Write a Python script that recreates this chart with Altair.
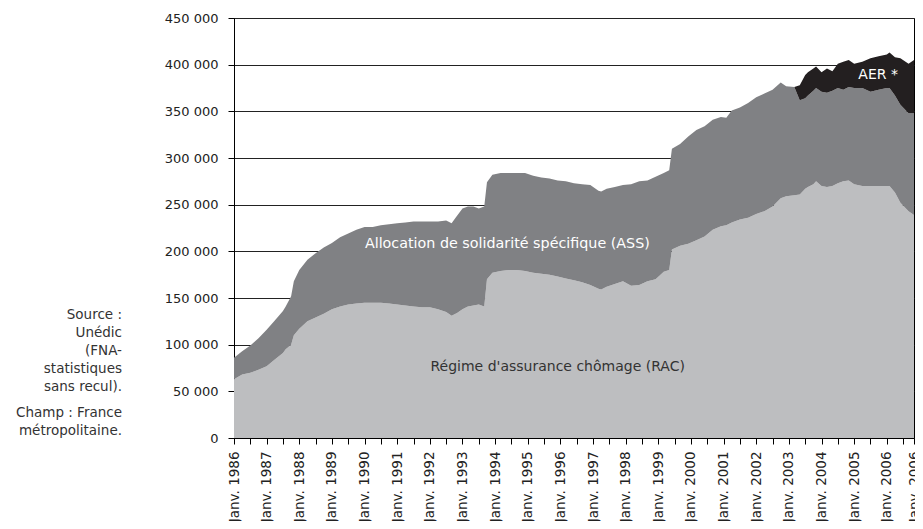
import altair as alt
import pandas as pd

# months since January 1986
months = [0, 3, 6, 9, 12, 15, 18, 19, 21, 22, 24, 27, 30, 33, 36, 39, 42, 45, 48, 51,
          54, 57, 60, 63, 66, 69, 72, 75, 78, 80, 82, 84, 86, 88, 90, 92, 93, 95, 98, 101,
          104, 107, 110, 113, 116, 119, 122, 125, 128, 131, 134, 135, 137, 140, 143, 146, 149, 152, 155, 158,
          160, 161, 164, 167, 170, 173, 176, 179, 181, 183, 186, 189, 192, 195, 198, 201, 203, 206, 208, 210,
          211, 213, 214, 216, 218, 220, 222, 224, 226, 228, 231, 234, 237, 240, 241, 243, 245, 248, 250]

# thousands of beneficiaries
rac = [63, 68, 70, 73, 77, 84, 91, 95, 100, 110, 117, 125, 129, 133, 138, 141, 143, 144, 145, 145,
       145, 144, 143, 142, 141, 140, 140, 138, 135, 131, 134, 138, 141, 142, 143, 141, 170, 177, 179, 180,
       180, 179, 177, 176, 175, 173, 171, 169, 167, 164, 160, 159, 162, 165, 168, 163, 164, 168, 170, 178,
       180, 202, 206, 208, 212, 216, 223, 227, 228, 231, 234, 236, 240, 243, 248, 257, 259, 260, 261, 267,
       269, 272, 275, 270, 269, 270, 273, 275, 276, 272, 270, 270, 270, 270, 270, 263, 252, 243, 239]

ass = [23, 25, 29, 34, 39, 42, 45, 46, 52, 58, 63, 66, 69, 71, 71, 74, 76, 79, 81, 81,
       83, 85, 87, 89, 91, 92, 92, 94, 98, 99, 104, 108, 107, 106, 103, 107, 104, 105, 105, 104,
       104, 105, 104, 103, 103, 103, 104, 104, 105, 107, 105, 105, 105, 104, 103, 109, 111, 108, 110, 106,
       107, 108, 109, 115, 118, 118, 118, 117, 115, 120, 120, 123, 125, 126, 125, 124, 118, 116, 101, 97,
       98, 100, 100, 101, 101, 102, 102, 98, 100, 103, 105, 101, 103, 105, 105, 104, 105, 105, 109]

aer = [0] * 77 + [0, 16, 25,
       25, 24, 23, 21, 26, 21, 26, 30, 29, 26, 28, 36, 36, 36, 38, 41, 50, 53, 57]

series_names = ["Régime d'assurance chômage (RAC)",
                "Allocation de solidarité spécifique (ASS)",
                "AER *"]
series_colors = ["#bdbec0", "#808184", "#231f20"]

rows = []
for i, m in enumerate(months):
    for k, vals in enumerate([rac, ass, aer]):
        rows.append({"mois": m, "serie": series_names[k], "ordre": k,
                     "effectif": vals[i] * 1000})
df = pd.DataFrame(rows)

x_ticks = list(range(0, 250, 6)) + [250]
y_ticks = list(range(0, 450001, 50000))
FONT = "DejaVu Sans"

x_scale = alt.Scale(domain=[0, 250], nice=False, zero=False)
y_scale = alt.Scale(domain=[0, 450000], nice=False)
x_axis = alt.Axis(
    values=x_ticks,
    labelExpr="datum.value % 12 == 0 ? 'Janv. ' + (1986 + datum.value / 12) : (datum.value == 250 ? 'Janv. 2006' : '')",
    labelAngle=270, labelAlign="right", labelBaseline="middle",
    labelOverlap=False, labelFlush=False, labelPadding=7,
    tickSize=6, tickColor="#000", domainColor="#000", grid=False,
    labelFont=FONT, labelFontSize=13.5, labelColor="#222", title=None,
)
y_axis = alt.Axis(
    values=y_ticks,
    labelExpr="replace(format(datum.value, ','), ',', ' ')",
    grid=True, gridColor="#222", gridWidth=1, labelOverlap=False,
    tickSize=6, tickColor="#000", domainColor="#000", labelPadding=10,
    labelFont=FONT, labelFontSize=13, labelColor="#222", title=None,
)

areas = alt.Chart(df).mark_area(interpolate="linear", opacity=1).encode(
    x=alt.X("mois:Q", scale=x_scale, axis=x_axis),
    y=alt.Y("effectif:Q", stack="zero", scale=y_scale, axis=y_axis),
    color=alt.Color("serie:N", scale=alt.Scale(domain=series_names, range=series_colors), legend=None),
    order=alt.Order("ordre:Q", sort="ascending"),
)


def label(text, xm, yv, color, size):
    d = pd.DataFrame({"t": [text], "mois": [xm], "effectif": [yv]})
    return alt.Chart(d).mark_text(
        font=FONT, fontSize=size, color=color, align="center", baseline="middle"
    ).encode(
        x=alt.X("mois:Q", scale=x_scale, axis=x_axis),
        y=alt.Y("effectif:Q", stack=None, scale=y_scale, axis=y_axis),
        text="t:N",
    )


ann_ass = label("Allocation de solidarité spécifique (ASS)", 100.5, 208000, "#ffffff", 14.3)
ann_rac = label("Régime d'assurance chômage (RAC)", 119, 76000, "#333333", 14)
ann_aer = label("AER *", 236.8, 389000, "#ffffff", 14)

note_src = alt.Chart(pd.DataFrame({"t": ["Source :\nUnédic\n(FNA-\nstatistiques\nsans recul)."]})).mark_text(
    font=FONT, fontSize=13.5, color="#333", align="right", baseline="top", lineBreak="\n", lineHeight=18
).encode(x=alt.value(-112), y=alt.value(290), text="t:N")
note_champ = alt.Chart(pd.DataFrame({"t": ["Champ : France\nmétropolitaine."]})).mark_text(
    font=FONT, fontSize=13.5, color="#333", align="right", baseline="top", lineBreak="\n", lineHeight=18
).encode(x=alt.value(-112), y=alt.value(388), text="t:N")

chart = alt.layer(areas, ann_ass, ann_rac, ann_aer, note_src, note_champ).properties(
    width=680, height=420,
    autosize=alt.AutoSizeParams(type="none"),
    padding={"left": 226, "top": 10, "right": 1, "bottom": 83},
).configure_view(stroke="#000", strokeWidth=1).configure_axis(labelOverlap=False)

chart.save("out.html", embed_options={"renderer": "svg", "actions": False})
